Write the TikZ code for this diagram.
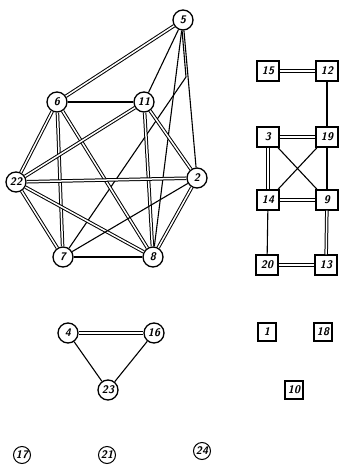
\documentclass[tikz,border=0pt]{standalone}
\begin{document}
\begin{tikzpicture}[x=1pt,y=-1pt,
  lbl/.style={font=\sffamily\bfseries\itshape\fontsize{11}{11}\selectfont},
  cnode/.style={lbl,circle,draw,line width=1.3pt,minimum size=20pt,inner sep=0pt,fill=white},
  tnode/.style={lbl,circle,draw,line width=1pt,minimum size=17pt,inner sep=0pt},
  snode/.style={lbl,rectangle,draw,line width=1.3pt,minimum width=22pt,minimum height=20pt,inner sep=0pt,fill=white},
  ssnode/.style={lbl,rectangle,draw,line width=1.3pt,minimum width=18pt,minimum height=18pt,inner sep=0pt},
  dbl/.style={double,double distance=1.5pt,line width=1pt},
  sgl/.style={line width=1.1pt}]
\useasboundingbox (0,0) rectangle (338,465);
% main cluster
\node[cnode] (n5) at (183,20) {5};
\node[cnode] (n6) at (57,102) {6};
\node[cnode] (n11) at (144,102) {11};
\node[cnode] (n22) at (16,182) {22};
\node[cnode] (n2) at (197,178) {2};
\node[cnode] (n7) at (63,257) {7};
\node[cnode] (n8) at (153,257) {8};
\coordinate (bend) at (186,77);
% square cluster
\node[snode] (n15) at (268,71) {15};
\node[snode] (n12) at (327,71) {12};
\node[snode] (n3) at (268,137) {3};
\node[snode] (n19) at (327,137) {19};
\node[snode] (n14) at (268,200) {14};
\node[snode] (n9) at (327,200) {9};
\node[snode] (n20) at (267,265) {20};
\node[snode] (n13) at (326,265) {13};
\node[ssnode] (n1) at (267,332) {1};
\node[ssnode] (n18) at (323,332) {18};
\node[ssnode] (n10) at (294,390) {10};
% triangle
\node[cnode] (n4) at (68,333) {4};
\node[cnode] (n16) at (154,333) {16};
\node[cnode] (n23) at (108,390) {23};
% isolated
\node[tnode] (n17) at (22,455) {17};
\node[tnode] (n21) at (107,455) {21};
\node[tnode] (n24) at (202,451) {24};
% edges main cluster
\draw[dbl] (n5) -- (n6);
\draw[sgl] (n5) -- (n11);
\draw[sgl] (n5) -- (n8);
\draw[sgl] (n5.-95) -- (bend) -- (n7);
\draw[sgl] (n5) -- (n2);
\draw[sgl] (n6) -- (n11);
\draw[dbl] (n6) -- (n22);
\draw[dbl] (n6) -- (n7);
\draw[dbl] (n6) -- (n8);
\draw[dbl] (n11) -- (n22);
\draw[dbl] (n11) -- (n8);
\draw[dbl] (n11) -- (n2);
\draw[dbl] (n22) -- (n2);
\draw[dbl] (n22) -- (n7);
\draw[dbl] (n22) -- (n8);
\draw[sgl] (n2) -- (n7);
\draw[dbl] (n2) -- (n8);
\draw[sgl] (n7) -- (n8);
% edges squares
\draw[dbl] (n15) -- (n12);
\draw[sgl] (n12) -- (n19);
\draw[dbl] (n3) -- (n19);
\draw[dbl] (n3) -- (n14);
\draw[sgl] (n3) -- (n9);
\draw[sgl] (n19) -- (n14);
\draw[sgl] (n19) -- (n9);
\draw[dbl] (n14) -- (n9);
\draw[sgl] (n14) -- (n20);
\draw[dbl] (n9) -- (n13);
\draw[dbl] (n20) -- (n13);
% triangle edges
\draw[dbl] (n4) -- (n16);
\draw[sgl] (n4) -- (n23);
\draw[sgl] (n16) -- (n23);
\end{tikzpicture}
\end{document}
